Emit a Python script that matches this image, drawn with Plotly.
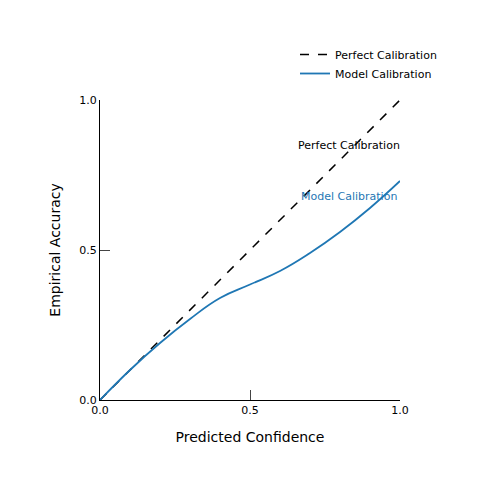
import plotly.graph_objects as go

conf = [0.0, 0.1, 0.2, 0.3, 0.4, 0.5, 0.6, 0.7, 0.8, 0.9, 1.0]
acc = [0.0, 0.1, 0.19, 0.27, 0.34, 0.385, 0.43, 0.49, 0.56, 0.64, 0.73]
perfect = [0.0, 1.0]
ticks = [0.0, 0.5, 1.0]
ticklabels = ["0.0", "0.5", "1.0"]

fig = go.Figure()
fig.add_trace(go.Scatter(x=perfect, y=perfect, mode="lines", name="Perfect Calibration",
                         line=dict(color="black", dash="dash", width=1.5)))
fig.add_trace(go.Scatter(x=conf, y=acc, mode="lines", name="Model Calibration",
                         line=dict(color="#1f77b4", width=1.8, shape="spline", smoothing=1.3)))
fig.add_annotation(x=0.83, y=0.85, text="Perfect Calibration", showarrow=False,
                   font=dict(size=11, color="black"))
fig.add_annotation(x=0.83, y=0.68, text="Model Calibration", showarrow=False,
                   font=dict(size=11, color="#1f77b4"))
fig.update_layout(
    width=500, height=500, plot_bgcolor="white", paper_bgcolor="white",
    margin=dict(l=92, r=108, t=92, b=108),
    font=dict(family="DejaVu Sans", size=11, color="black"),
    showlegend=True,
    legend=dict(x=0.65, y=1.2, xanchor="left", yanchor="top", font=dict(size=11)),
    xaxis=dict(range=[0, 1], tickvals=ticks, ticktext=ticklabels, ticks="inside",
               ticklen=10, showgrid=False, zeroline=False, showline=True,
               linecolor="black", title=dict(text="Predicted Confidence", font=dict(size=14))),
    yaxis=dict(range=[0, 1], tickvals=ticks, ticktext=ticklabels, ticks="inside",
               ticklen=10, showgrid=False, zeroline=False, showline=True,
               linecolor="black", title=dict(text="Empirical Accuracy", font=dict(size=14))),
)
fig.write_html("out.html")
